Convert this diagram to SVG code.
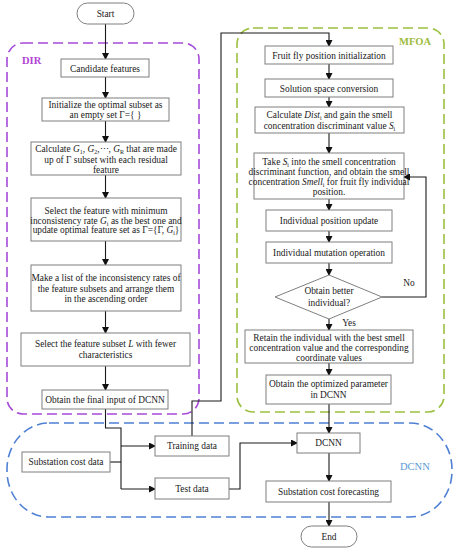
<svg xmlns="http://www.w3.org/2000/svg" width="458" height="550" viewBox="0 0 458 550">
<defs>
<marker id="ah" markerWidth="7" markerHeight="7" refX="6" refY="3.5" orient="auto" markerUnits="userSpaceOnUse">
<path d="M0,0 L7,3.5 L0,7 Z" fill="#111"/>
</marker>
<style>
.box{fill:#fff;stroke:#7f7f7f;stroke-width:1}
.t{font-family:"Liberation Serif","Times New Roman",serif;font-size:9.4px;fill:#1a1a1a;text-anchor:middle}
.i{font-style:italic}
.s{font-size:6px}
.c{fill:none;stroke:#1a1a1a;stroke-width:1.1}
.ca{fill:none;stroke:#1a1a1a;stroke-width:1.1;marker-end:url(#ah)}
.lab{font-family:"Liberation Serif","Times New Roman",serif;font-size:10.5px;font-weight:bold}
.labn{font-family:"Liberation Serif","Times New Roman",serif;font-size:10.5px;font-weight:normal}
</style>
</defs>
<rect width="458" height="550" fill="#fff"/>

<g id="regions">
<rect id="dir-region" x="7" y="43" width="192" height="371" rx="16" fill="none" stroke="#a64ad8" stroke-width="1.6" stroke-dasharray="10,5"/>
<rect id="mfoa-region" x="237" y="28" width="207" height="384" rx="16" fill="none" stroke="#9dc040" stroke-width="1.6" stroke-dasharray="10,5"/>
<rect id="dcnn-region" x="7" y="423" width="445" height="94" rx="42" ry="46" fill="none" stroke="#4f80d4" stroke-width="1.6" stroke-dasharray="10,5"/>
<text class="lab" x="22" y="64" fill="#b043d4">DIR</text>
<text class="lab" x="399" y="45" fill="#9dbb3c">MFOA</text>
<text class="labn" x="400" y="470" fill="#5b9bd5">DCNN</text>
</g>

<g id="connectors">
<line class="ca" x1="105.5" y1="24" x2="105.5" y2="59"/>
<line class="ca" x1="105.5" y1="77" x2="105.5" y2="98"/>
<line class="ca" x1="105.5" y1="121" x2="105.5" y2="142"/>
<line class="ca" x1="105.5" y1="175" x2="105.5" y2="198"/>
<line class="ca" x1="105.5" y1="241" x2="105.5" y2="265"/>
<line class="ca" x1="105.5" y1="311" x2="105.5" y2="333"/>
<line class="ca" x1="105.5" y1="366" x2="105.5" y2="390"/>
<polyline class="c" points="105.5,409 105.5,428 121,428 121,489"/>
<line class="ca" x1="121" y1="446" x2="155" y2="446"/>
<line class="ca" x1="121" y1="489" x2="155" y2="489"/>
<line class="c" x1="110" y1="462" x2="121" y2="462"/>
<polyline class="ca" points="192,436 192,401 221,401 221,33 329,33 329,46" stroke="#333"/>
<polyline class="ca" points="229,489 240,489 240,443 297,443"/>
<line class="ca" x1="329" y1="64" x2="329" y2="79"/>
<line class="ca" x1="329" y1="97" x2="329" y2="107"/>
<line class="ca" x1="329" y1="133" x2="329" y2="153"/>
<line class="ca" x1="329" y1="199" x2="329" y2="210"/>
<line class="ca" x1="329" y1="231" x2="329" y2="242"/>
<line class="ca" x1="329" y1="263" x2="329" y2="275"/>
<line class="ca" x1="329" y1="319" x2="329" y2="330"/>
<line class="ca" x1="329" y1="363" x2="329" y2="375"/>
<line class="ca" x1="329" y1="404" x2="329" y2="433"/>
<polyline class="ca" points="382,297 426,297 426,177 404,177"/>
<line class="ca" x1="329" y1="453" x2="329" y2="481"/>
<line class="ca" x1="329" y1="502" x2="329" y2="526"/>
<text class="t" x="409" y="286">No</text>
<text class="t" x="349" y="326">Yes</text>
</g>

<g id="start">
<rect class="box" x="77" y="3" width="57" height="21" rx="10.5"/>
<text class="t" x="105.5" y="17">Start</text>
</g>
<g id="candidate">
<rect class="box" x="61" y="59" width="88" height="18"/>
<text class="t" x="105" y="71.5">Candidate features</text>
</g>
<g id="initialize">
<rect class="box" x="42" y="98" width="127" height="23"/>
<text class="t" x="105.5" y="108">Initialize the optimal subset as</text>
<text class="t" x="105.5" y="118">an empty set Γ={ }</text>
</g>
<g id="calculate-g">
<rect class="box" x="31" y="142" width="150" height="33"/>
<text class="t" x="106" y="152">Calculate <tspan class="i">G</tspan><tspan class="s" dy="2">1</tspan><tspan dy="-2">, </tspan><tspan class="i">G</tspan><tspan class="s" dy="2">2</tspan><tspan dy="-2">,⋯, </tspan><tspan class="i">G</tspan><tspan class="s" dy="2">R</tspan><tspan dy="-2">  that are made</tspan></text>
<text class="t" x="106" y="162.5">up of  Γ subset with each residual</text>
<text class="t" x="106" y="173">feature</text>
</g>
<g id="select-feature">
<rect class="box" x="31" y="198" width="150" height="43"/>
<text class="t" x="106" y="214">Select the feature with minimum</text>
<text class="t" x="106" y="223.5">inconsistency rate <tspan class="i">G</tspan><tspan class="s" dy="2">i</tspan><tspan dy="-2"> as the best one and</tspan></text>
<text class="t" x="106" y="233">update optimal feature set as Γ={Γ, <tspan class="i">G</tspan><tspan class="s" dy="2">i</tspan><tspan dy="-2">}</tspan></text>
</g>
<g id="make-list">
<rect class="box" x="31" y="265" width="150" height="46"/>
<text class="t" x="106" y="281">Make a list of the inconsistency rates of</text>
<text class="t" x="106" y="291.5">the feature subsets and arrange them</text>
<text class="t" x="106" y="302">in the ascending order</text>
</g>
<g id="select-subset">
<rect class="box" x="21" y="333" width="169" height="33"/>
<text class="t" x="105.5" y="347">Select the feature subset <tspan class="i">L</tspan> with fewer</text>
<text class="t" x="105.5" y="357.5">characteristics</text>
</g>
<g id="final-input">
<rect class="box" x="42" y="390" width="126" height="19"/>
<text class="t" x="105" y="402.5">Obtain the final input of DCNN</text>
</g>

<g id="fruit-fly-init">
<rect class="box" x="265" y="46" width="128" height="18"/>
<text class="t" x="329" y="58.5">Fruit fly position initialization</text>
</g>
<g id="solution-space">
<rect class="box" x="265" y="79" width="128" height="18"/>
<text class="t" x="329" y="91.5">Solution space conversion</text>
</g>
<g id="calculate-dist">
<rect class="box" x="255" y="107" width="149" height="26"/>
<text class="t" x="329.5" y="118">Calculate <tspan class="i">Dist</tspan><tspan class="s" dy="2">i</tspan><tspan dy="-2">  and gain the smell</tspan></text>
<text class="t" x="329.5" y="128.5">concentration discriminant value <tspan class="i">S</tspan><tspan class="s" dy="2">i</tspan></text>
</g>
<g id="take-si">
<rect class="box" x="254" y="153" width="150" height="46"/>
<text class="t" x="329" y="165">Take <tspan class="i">S</tspan><tspan class="s" dy="2">i</tspan><tspan dy="-2"> into the smell concentration</tspan></text>
<text class="t" x="329" y="175">discriminant function, and obtain the smell</text>
<text class="t" x="329" y="185">concentration <tspan class="i">Smell</tspan><tspan class="s" dy="2">i</tspan><tspan dy="-2"> for fruit fly individual</tspan></text>
<text class="t" x="329" y="195">position.</text>
</g>
<g id="position-update">
<rect class="box" x="266" y="210" width="126" height="21"/>
<text class="t" x="329" y="224">Individual position update</text>
</g>
<g id="mutation">
<rect class="box" x="266" y="242" width="126" height="21"/>
<text class="t" x="329" y="256">Individual mutation operation</text>
</g>
<g id="better-individual">
<polygon class="box" points="329,275 382,297 329,319 275,297"/>
<text class="t" x="329" y="294">Obtain better</text>
<text class="t" x="329" y="306">individual?</text>
</g>
<g id="retain">
<rect class="box" x="245" y="330" width="168" height="33"/>
<text class="t" x="329" y="340.5">Retain the individual with the best smell</text>
<text class="t" x="329" y="350.5">concentration value and the corresponding</text>
<text class="t" x="329" y="360.5">coordinate values</text>
</g>
<g id="optimized-param">
<rect class="box" x="266" y="375" width="125" height="29"/>
<text class="t" x="328.5" y="387">Obtain the optimized parameter</text>
<text class="t" x="328.5" y="398">in DCNN</text>
</g>

<g id="substation-data">
<rect class="box" x="22" y="452" width="88" height="20"/>
<text class="t" x="66" y="465">Substation cost data</text>
</g>
<g id="training-data">
<rect class="box" x="155" y="436" width="74" height="20"/>
<text class="t" x="192" y="449">Training data</text>
</g>
<g id="test-data">
<rect class="box" x="155" y="478" width="74" height="21"/>
<text class="t" x="192" y="491.5">Test data</text>
</g>
<g id="dcnn">
<rect class="box" x="297" y="433" width="63" height="20"/>
<text class="t" x="328.5" y="446">DCNN</text>
</g>
<g id="forecasting">
<rect class="box" x="266" y="481" width="125" height="21"/>
<text class="t" x="328.5" y="495">Substation cost forecasting</text>
</g>
<g id="end">
<rect class="box" x="301" y="526" width="56" height="21" rx="10.5"/>
<text class="t" x="329" y="540">End</text>
</g>
</svg>
